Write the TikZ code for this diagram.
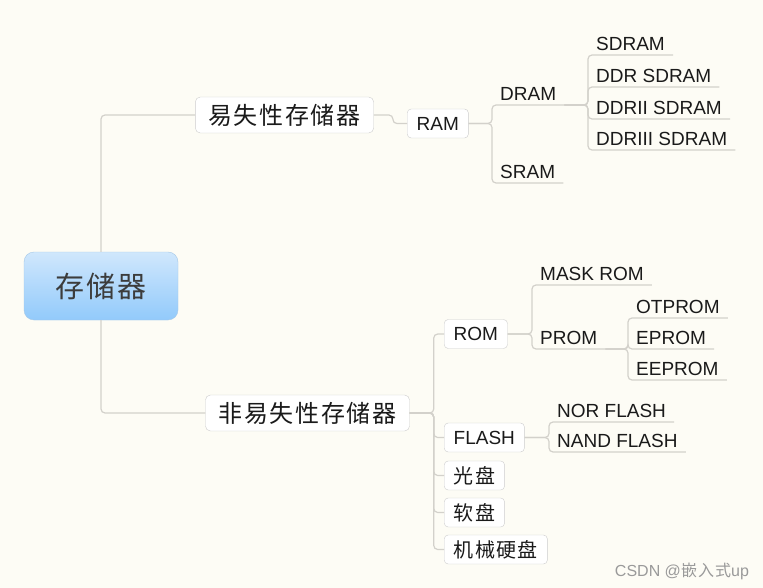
\documentclass[tikz,border=0pt]{standalone}
\usepackage{fontspec}
\setmainfont{Liberation Sans}
\newfontfamily\cjk{Noto Sans CJK SC}[LetterSpace=7]
\definecolor{bgcream}{HTML}{FDFCF5}
\definecolor{linkgray}{HTML}{D3D1CB}
\definecolor{boxedge}{HTML}{CDCDCD}
\definecolor{rootedge}{HTML}{A4C8E8}
\definecolor{roottop}{HTML}{D0E7FC}
\definecolor{rootbottom}{HTML}{92CAFB}
\definecolor{inkdark}{HTML}{1A1A1A}
\definecolor{markgray}{HTML}{9A9A9A}
\begin{document}
\begin{tikzpicture}[x=1pt,y=-1pt,
    link/.style={draw=linkgray,line width=1.2pt,rounded corners=4pt},
    rootbox/.style={draw=rootedge,top color=roottop,bottom color=rootbottom,rounded corners=10pt,
        minimum width=154pt,minimum height=68pt,text=inkdark!85,font=\cjk\fontsize{29}{29}\selectfont},
    topic/.style={draw=boxedge,fill=white,rounded corners=5pt,minimum height=36pt,inner xsep=13pt,
        text=inkdark,font=\cjk\fontsize{24}{24}\selectfont},
    sub/.style={draw=boxedge,fill=white,rounded corners=4pt,minimum height=29pt,inner xsep=9.5pt,
        anchor=west,text=inkdark,font=\fontsize{19}{19}\selectfont},
    subcjk/.style={sub,font=\cjk\fontsize{20}{20}\selectfont},
    leaf/.style={anchor=south west,inner xsep=8pt,inner ysep=4pt,text height=14pt,text depth=0pt,
        text=inkdark,font=\fontsize{19}{19}\selectfont}]

    \fill[bgcream] (0,0) rectangle (763,588);
    \useasboundingbox (0,0) rectangle (763,588);

    \node[rootbox] (root) at (101,286) {存储器};
    \node[topic] (vol) at (284.5,115) {易失性存储器};
    \node[topic] (nonvol) at (307.5,413) {非易失性存储器};

    \node[sub] (ram) at (407,123.5) {RAM};
    \node[leaf] (dram) at (492,105) {DRAM};
    \node[leaf] (sram) at (492,183) {SRAM};
    \node[leaf] (sdram) at (588,55) {SDRAM};
    \node[leaf] (ddr) at (588,87) {DDR SDRAM};
    \node[leaf] (ddrii) at (588,119) {DDRII SDRAM};
    \node[leaf] (ddriii) at (588,150) {DDRIII SDRAM};

    \node[sub] (rom) at (444,334) {ROM};
    \node[sub] (flash) at (444,437.5) {FLASH};
    \node[subcjk] (cd) at (444,475.5) {光盘};
    \node[subcjk] (floppy) at (444,512.5) {软盘};
    \node[subcjk] (hdd) at (444,549.5) {机械硬盘};
    \node[leaf] (maskrom) at (532,285) {MASK ROM};
    \node[leaf] (prom) at (532,349) {PROM};
    \node[leaf] (otprom) at (628,318) {OTPROM};
    \node[leaf] (eprom) at (628,349) {EPROM};
    \node[leaf] (eeprom) at (628,380) {EEPROM};
    \node[leaf] (norflash) at (549,422) {NOR FLASH};
    \node[leaf] (nandflash) at (549,452) {NAND FLASH};

    \node[text=markgray,font=\fontsize{16}{16}\selectfont] (mark) at (682,571) {CSDN @{\cjk 嵌入式}up};

    \draw[link] (root.north) |- (vol.west);
    \draw[link] (root.south) |- (nonvol.west);
    \draw[link] (vol.east) -- ++(19,0) |- (ram.west);
    \draw[link] (ram.east) -| (dram.south west) -- (dram.south east);
    \draw[link] (ram.east) -| (sram.south west) -- (sram.south east);
    \draw[link] (dram.south east) -| (sdram.south west) -- (sdram.south east);
    \draw[link] (dram.south east) -| (ddr.south west) -- (ddr.south east);
    \draw[link] (dram.south east) -| (ddrii.south west) -- (ddrii.south east);
    \draw[link] (dram.south east) -| (ddriii.south west) -- (ddriii.south east);

    \draw[link] (nonvol.east) -- ++(24,0) |- (rom.west);
    \draw[link] (nonvol.east) -- ++(24,0) |- (flash.west);
    \draw[link] (nonvol.east) -- ++(24,0) |- (cd.west);
    \draw[link] (nonvol.east) -- ++(24,0) |- (floppy.west);
    \draw[link] (nonvol.east) -- ++(24,0) |- (hdd.west);
    \draw[link] (rom.east) -| (maskrom.south west) -- (maskrom.south east);
    \draw[link] (rom.east) -| (prom.south west) -- (prom.south east);
    \draw[link] (prom.south east) -| (otprom.south west) -- (otprom.south east);
    \draw[link] (prom.south east) -| (eprom.south west) -- (eprom.south east);
    \draw[link] (prom.south east) -| (eeprom.south west) -- (eeprom.south east);
    \draw[link] (flash.east) -| (norflash.south west) -- (norflash.south east);
    \draw[link] (flash.east) -| (nandflash.south west) -- (nandflash.south east);
\end{tikzpicture}
\end{document}
